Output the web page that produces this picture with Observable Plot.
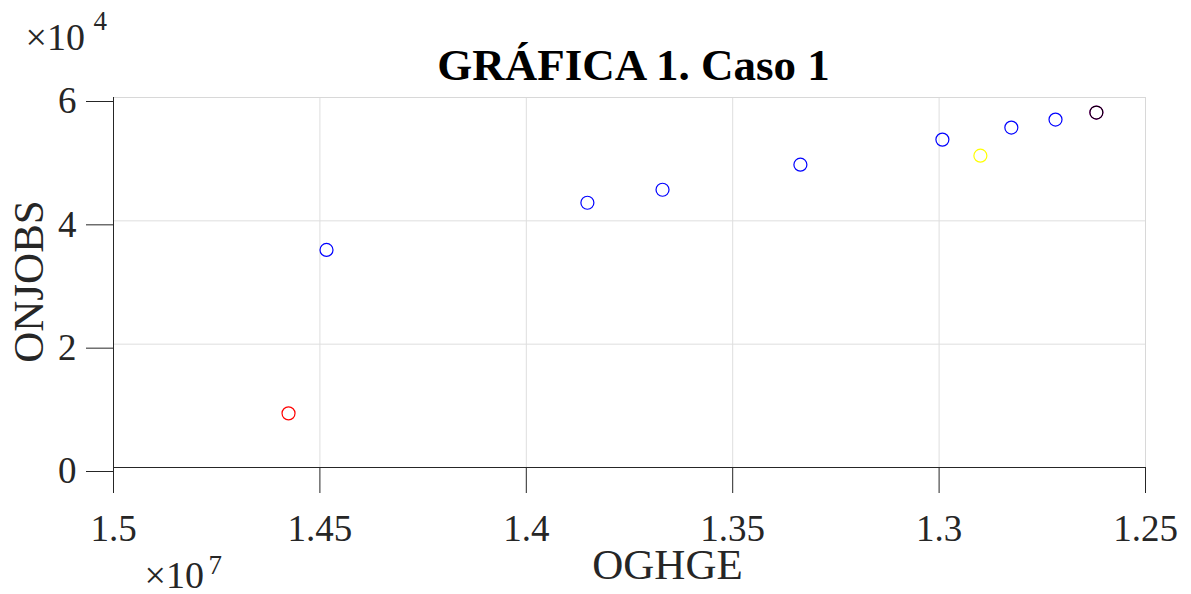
<!DOCTYPE html>
<html><head><meta charset="utf-8">
<script src="https://cdn.jsdelivr.net/npm/d3@7"></script>
<script src="https://cdn.jsdelivr.net/npm/@observablehq/plot@0.6"></script>
<style>html,body{margin:0;padding:0;background:#fff;} svg{display:block} svg, svg text{font-family:"Liberation Serif","Tinos","Times New Roman","Nimbus Roman","DejaVu Serif",serif !important;}</style>
</head><body><div id="chart"></div>
<script>
// Data
const OGHGE  = [14576000, 14484000, 13852000, 13670000, 13336000, 12992000, 12825000, 12718000, 12900000, 12619000, 12619000];
const ONJOBS = [8780, 35280, 42930, 45040, 49110, 53170, 55120, 56420, 50570, 57560, 57560];
const grupo  = ["inicial", "frontera", "frontera", "frontera", "frontera", "frontera", "frontera", "frontera", "alternativa", "extremo", "final"];
const grupos = ["inicial", "frontera", "alternativa", "extremo", "final"];
const xTicks = [1.5e7, 1.45e7, 1.4e7, 1.35e7, 1.3e7, 1.25e7];
const yTicks = [0, 2e4, 4e4, 6e4];
const title = "GRÁFICA 1. Caso 1";
const xLabel = "OGHGE";
const yLabel = "ONJOBS";

const data = OGHGE.map((x, i) => ({x, y: ONJOBS[i], g: grupo[i]}));
const ink = "#262626";

const chart = Plot.plot({
  width: 1191, height: 594,
  marginLeft: 113, marginRight: 46, marginTop: 97, marginBottom: 127,
  style: {color: ink, background: "#fff"},
  x: {domain: [1.5e7, 1.25e7]},
  y: {domain: [0, 6e4]},
  color: {domain: grupos, range: ["#ff0000", "#0000ff", "#ffff00", "#ff00ff", "#000000"]},
  marks: [
    Plot.gridX(xTicks, {stroke: "#dedede", strokeOpacity: 1}),
    Plot.gridY(yTicks, {stroke: "#dedede", strokeOpacity: 1}),
    Plot.frame({stroke: "#d8d8d8"}),
    Plot.axisX(xTicks, {tickSize: 26, tickPadding: 21, fontSize: 37, stroke: ink, tickFormat: d => String(d / 1e7), label: null}),
    Plot.axisY(yTicks, {tickSize: 27, tickPadding: 10, fontSize: 37, dy: 4, stroke: ink, tickFormat: d => String(d / 1e4), label: null}),
    Plot.ruleY([0], {stroke: ink}),
    Plot.ruleX([1.5e7], {stroke: ink}),
    Plot.dot(data, {x: "x", y: "y", stroke: "g", r: 6.5, strokeWidth: 1.2, fill: "none"}),
    Plot.text([title], {frameAnchor: "top", textAnchor: "middle", dx: 4, dy: -18, lineAnchor: "bottom", fontSize: 45, fontWeight: "bold", fill: "#000"}),
    Plot.text([xLabel], {frameAnchor: "bottom", textAnchor: "middle", dx: 38, dy: 111, lineAnchor: "bottom", fontSize: 43, fill: ink}),
    Plot.text([yLabel], {frameAnchor: "left", textAnchor: "middle", dx: -71, dy: -1, rotate: -90, lineAnchor: "bottom", fontSize: 43, fill: ink}),
    Plot.text(["×10"], {frameAnchor: "top-left", dx: -88, dy: -48, textAnchor: "start", lineAnchor: "bottom", fontSize: 38, fill: ink}),
    Plot.text(["4"], {frameAnchor: "top-left", dx: -20, dy: -68, textAnchor: "start", lineAnchor: "bottom", fontSize: 27, fill: ink}),
    Plot.text(["×10"], {frameAnchor: "bottom-left", dx: 31, dy: 120, textAnchor: "start", lineAnchor: "bottom", fontSize: 38, fill: ink}),
    Plot.text(["7"], {frameAnchor: "bottom-left", dx: 95, dy: 106, textAnchor: "start", lineAnchor: "bottom", fontSize: 27, fill: ink})
  ]
});
document.getElementById("chart").appendChild(chart);
</script></body></html>
